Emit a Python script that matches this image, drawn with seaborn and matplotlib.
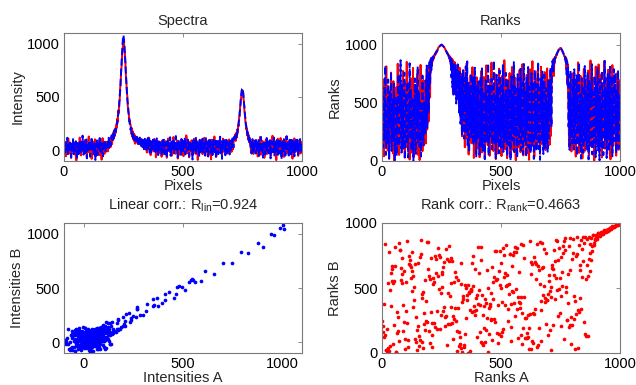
import numpy as np
import pandas as pd
import matplotlib
matplotlib.use("Agg")
import matplotlib.pyplot as plt
import seaborn as sns

# ---------------- data (read / estimated from the picture) ----------------
pixel_step = 2  # one sample every 2 pixels

spectrum_a = [
    32, -18, 61, 5, -55, 84, 27, 40, -8, 110,
    15, 48, -30, 72, 22, -72, 55, 9, 38, 95,
    -12, 66, 29, -41, 80, 18, -95, 44, 58, 3,
    71, -25, 35, 120, 12, 50, -48, 26, 88, -6,
    41, 63, -35, 19, 97, -14, 30, 57, -62, 76,
    8, 45, 130, -20, 36, 69, -2, 24, -80, 52,
    85, 17, -38, 47, 11, 104, 33, -58, 62, 21,
    -27, 74, 39, 6, 92, -46, 28, 56, 14, -88,
    49, 115, 0, 37, 68, -33, 23, 81, -15, 43,
    35, 80, -10, 62, 95, 20, 48, 110, 30, 75,
    120, 58, 145, 96, 170, 112, 188, 135, 210, 165,
    240, 215, 298, 270, 372, 350, 455, 470, 590, 612,
    745, 790, 880, 945, 990, 1005, 1010, 960, 905, 830,
    700, 655, 540, 512, 410, 395, 355, 270, 285, 250,
    235, 170, 210, 130, 182, 105, 160, 90, 148, 62,
    130, 100, 72, 128, 85, 110, 60, 96, 78, 115,
    55, 88, 42, 104, 70, 36, 92, 58, 10, 75,
    47, 98, 24, 63, -20, 82, 38, 55, 120, 5,
    66, 30, -45, 71, 44, 12, 90, 52, -10, 35,
    108, 20, 62, -65, 48, 79, 15, 40, -28, 86,
    18, 57, -24, 79, 33, -60, 45, 12, 96, 28,
    -38, 64, 41, 2, 87, 23, -70, 50, 35, 112,
    7, 46, -15, 73, 30, 59, -52, 19, 83, 38,
    125, -8, 54, 26, -33, 68, 44, 4, 91, -77,
    36, 15, 78, -42, 61, 25, 102, -19, 47, 10,
    66, -55, 31, 89, 21, 48, -4, 140, 39, -28,
    56, 13, 82, -66, 42, 29, 71, -10, 94, 34,
    -45, 60, 22, 108, 3, 52, -30, 77, 40, 16,
    85, -90, 44, 27, 67, -22, 35, 58, 9, 99,
    24, -36, 70, 46, 1, 118, 30, -50, 63, 37,
    51, -16, 76, 29, 90, -40, 38, 14, 65, -85,
    43, 100, 20, -28, 58, 34, 130, -6, 72, 26,
    -58, 49, 11, 84, 39, -20, 62, 97, 5, 45,
    31, 68, -44, 23, 109, 53, -12, 80, 17, 40,
    44, -8, 95, 20, -30, 66, 35, 102, 8, 50,
    30, 75, -15, 58, 90, 10, 66, 102, 95, 120,
    150, 88, 165, 120, 195, 170, 240, 230, 315, 320,
    410, 430, 495, 530, 548, 545, 560, 480, 465, 370,
    350, 270, 262, 195, 205, 140, 170, 100, 140, 75,
    118, 60, 40, -20, 76, 15, 58, 92, -35, 48,
    62, 18, 94, -25, 47, 80, 30, -58, 55, 71,
    9, 43, 126, 36, -40, 66, 21, 88, -12, 52,
    39, -70, 75, 28, 101, 15, 58, -33, 44, 82,
    23, 61, -8, 97, 34, -50, 70, 12, 137, 48,
    -20, 54, 27, 85, 6, 40, -92, 63, 31, 109,
    45, -14, 78, 19, 57, 116, -36, 29, 68, 3,
    90, 37, -62, 50, 24, 73, 10, 130, -26, 42,
    60, 16, 84, -44, 35, 99, 22, -5, 76, 51,
    -78, 33, 64, 8, 112, 46, -18, 87, 26, 55,
    14, 71, -52, 38, 93, 20, 59, -30, 47, 80,
]

spectrum_b = [
    44, 80, -22, 15, 67, 2, 35, 118, -48, 26,
    58, -10, 39, 91, 12, -66, 74, 30, 50, 105,
    -35, 21, 63, -4, 47, 85, 16, -82, 40, 69,
    28, -52, 56, 33, 99, -18, 11, 72, 45, 138,
    6, -40, 84, 24, 60, -26, 42, 102, -75, 31,
    70, 19, -13, 88, 37, -60, 53, 25, 125, 4,
    48, 78, -32, 20, 66, 10, -90, 57, 34, 93,
    14, -45, 38, 81, 27, 115, -8, 51, 73, -20,
    62, 29, -56, 46, 5, 97, 36, -15, 59, 22,
    55, 12, 90, 40, 118, 25, 70, 100, 45, 85,
    140, 85, 122, 160, 108, 185, 140, 150, 195, 175,
    220, 260, 250, 320, 335, 395, 410, 505, 560, 660,
    735, 830, 915, 1000, 1055, 1080, 1040, 985, 880, 820,
    730, 625, 575, 480, 440, 360, 340, 305, 250, 245,
    190, 215, 150, 175, 120, 150, 95, 135, 80, 125,
    70, 118, 70, 125, 88, 102, 58, 110, 84, 120,
    62, 92, 45, 104, 76, 30, 98, 55, 12, 80,
    108, 40, 66, 5, 94, 52, 115, 18, 72, 130,
    -22, 48, 86, -40, 34, 77, 25, 100, 8, 58,
    20, 95, -15, 64, 38, 112, 2, 50, -60, 81,
    36, 7, 88, 41, 62, -48, 19, 95, 53, -20,
    110, 47, -35, 28, 74, 13, -72, 58, 90, 32,
    -5, 66, 44, 123, -50, 24, 81, 9, 55, 39,
    92, -28, 61, 17, 76, 134, -12, 43, 70, -65,
    25, 98, 50, -9, 79, 35, -42, 106, 14, 63,
    -24, 85, 21, 57, 118, -38, 46, 72, -6, 30,
    101, 4, 67, -55, 40, 89, 26, -18, 78, 52,
    -86, 33, 96, 48, 0, 71, 15, 127, -40, 59,
    83, 8, 37, 68, -62, 99, 29, 54, -14, 75,
    20, 109, -30, 45, 11, 87, -47, 64, 121, 31,
    -8, 73, 42, -58, 94, 23, 56, 113, -24, 39,
    80, 10, -44, 65, 100, 32, -16, 51, 88, -70,
    37, 107, 6, 60, -36, 84, 47, 18, 128, -28,
    58, 26, -80, 92, 43, 76, -3, 104, 30, -46,
    39, 98, -25, 52, 79, -10, 61, 22, -38, 90,
    62, 5, 88, 40, 112, 70, 25, 95, 130, 110,
    105, 140, 118, 175, 150, 205, 200, 270, 285, 355,
    385, 460, 505, 555, 575, 580, 555, 520, 440, 410,
    330, 305, 235, 230, 170, 185, 125, 150, 95, 128,
    80, 112, 25, 70, -30, 52, 105, 8, 64, -12,
    27, 90, 61, -30, 108, 44, -12, 76, 33, 97,
    -52, 58, 14, 82, 125, -20, 49, 70, -68, 38,
    93, 3, 63, -41, 80, 25, 116, -6, 52, 74,
    -28, 41, 102, 18, -75, 66, 88, 30, -16, 79,
    55, 120, -48, 9, 72, 36, -9, 96, 50, -60,
    84, 22, 60, 110, -32, 45, 68, -85, 91, 17,
    57, -22, 105, 40, 78, -50, 12, 87, 132, 1,
    47, 74, -64, 29, 99, 7, 64, -38, 83, 114,
    -15, 53, 20, 95, -56, 71, 35, 108, -4, 62,
    100, 32, -42, 77, 49, 11, 106, -26, 69, 43,
]

tick_vals = [0, 500, 1000]
title_spectra = "Spectra"
title_ranks = "Ranks"
title_lin = r"Linear corr.: R$_{\mathrm{lin}}$=0.924"
title_rank = r"Rank corr.: R$_{\mathrm{rank}}$=0.4663"

assert len(spectrum_a) == len(spectrum_b), (len(spectrum_a), len(spectrum_b))

# ---------------- derived table ----------------
n = len(spectrum_a)
df = pd.DataFrame({
    "pixel": np.arange(n) * pixel_step,
    "A": spectrum_a,
    "B": spectrum_b,
})
rank_scale = 1000 / n
df["rankA"] = df["A"].rank(method="first") * rank_scale
df["rankB"] = df["B"].rank(method="first") * rank_scale

# ---------------- style ----------------
sns.set_style("white")
plt.rcParams["font.family"] = ["Liberation Sans", "DejaVu Sans"]
plt.rcParams["mathtext.fontset"] = "custom"
plt.rcParams["mathtext.rm"] = "Liberation Sans"
plt.rcParams["mathtext.it"] = "Liberation Sans:italic"
FS = 10.5

fig = plt.figure(figsize=(6.36, 3.85), dpi=100)
W, H = 636, 385


def make_ax(l, t, r, b):
    return fig.add_axes([l / W, 1 - b / H, (r - l) / W, (b - t) / H])


ax1 = make_ax(64, 33, 302, 161)
ax2 = make_ax(382, 33, 620, 161)
ax3 = make_ax(64, 223, 302, 353)
ax4 = make_ax(382, 223, 620, 353)


def style(ax):
    for s in ax.spines.values():
        s.set_visible(True)
        s.set_color("#7a7a7a")
        s.set_linewidth(0.8)
    ax.tick_params(direction="in", length=3, width=0.6, color="#7a7a7a",
                   top=True, right=True, labelsize=FS, labelcolor="black", pad=3)
    ax.set_xticks(tick_vals)
    ax.set_yticks(tick_vals)


# Spectra
sns.lineplot(data=df, x="pixel", y="A", ax=ax1, color="red", lw=1.4,
             estimator=None, sort=False)
sns.lineplot(data=df, x="pixel", y="B", ax=ax1, color="blue", lw=1.4,
             linestyle="--", estimator=None, sort=False)
ax1.set_xlim(0, 1000)
ax1.set_ylim(-100, 1100)
ax1.set_title(title_spectra, fontsize=FS, pad=6)
ax1.set_xlabel("Pixels", fontsize=FS, labelpad=0)
ax1.set_ylabel("Intensity", fontsize=FS, labelpad=2)
style(ax1)

# Ranks
sns.lineplot(data=df, x="pixel", y="rankA", ax=ax2, color="red", lw=1.4,
             estimator=None, sort=False)
sns.lineplot(data=df, x="pixel", y="rankB", ax=ax2, color="blue", lw=1.4,
             linestyle="--", estimator=None, sort=False)
ax2.set_xlim(0, 1000)
ax2.set_ylim(0, 1100)
ax2.set_title(title_ranks, fontsize=FS, pad=6)
ax2.set_xlabel("Pixels", fontsize=FS, labelpad=0)
ax2.set_ylabel("Ranks", fontsize=FS, labelpad=2)
style(ax2)

# Intensity scatter
sns.scatterplot(data=df, x="A", y="B", ax=ax3, color="blue", s=7,
                linewidth=0)
ax3.set_xlim(-100, 1100)
ax3.set_ylim(-100, 1100)
ax3.set_title(title_lin, fontsize=FS, pad=10)
ax3.set_xlabel("Intensities A", fontsize=FS, labelpad=0)
ax3.set_ylabel("Intensities B", fontsize=FS, labelpad=2)
style(ax3)

# Rank scatter
sns.scatterplot(data=df, x="rankA", y="rankB", ax=ax4, color="red", s=7,
                linewidth=0)
ax4.set_xlim(0, 1000)
ax4.set_ylim(0, 1000)
ax4.set_title(title_rank, fontsize=FS, pad=10)
ax4.set_xlabel("Ranks A", fontsize=FS, labelpad=0)
ax4.set_ylabel("Ranks B", fontsize=FS, labelpad=2)
style(ax4)

fig.savefig("out.png", dpi=100)
